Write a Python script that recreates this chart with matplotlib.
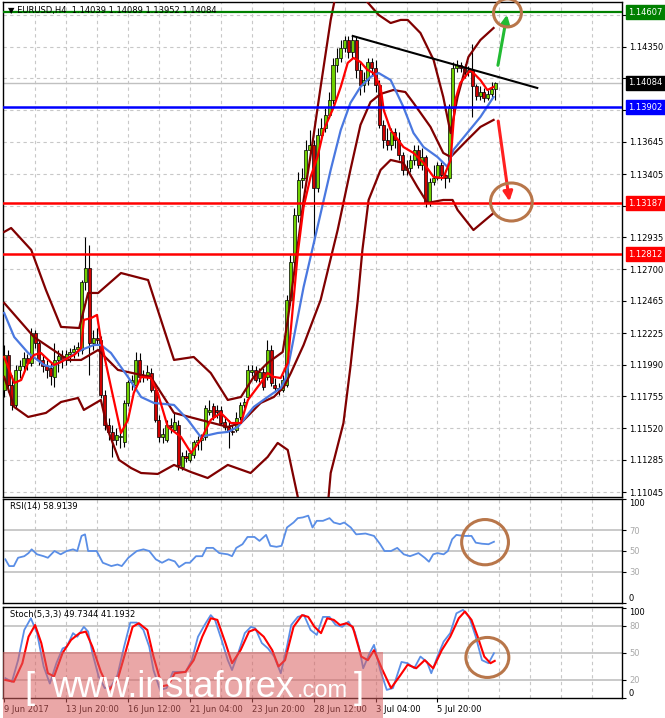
import matplotlib
matplotlib.use("Agg")
import matplotlib.pyplot as plt
import matplotlib.transforms as mtransforms
from matplotlib.patches import Ellipse, Rectangle

# ---------------- data (EURUSD H4) ----------------
opens = [
1.11803, 1.12063, 1.11840, 1.11692, 1.11952, 1.11981, 1.12041, 1.12004, 1.12226, 1.12152,
1.12026, 1.11981, 1.11966, 1.11900, 1.12026, 1.12056, 1.12026, 1.12070, 1.12085, 1.12107,
1.12100, 1.12605, 1.12708, 1.12152, 1.12189, 1.12174, 1.11766, 1.11544, 1.11492, 1.11432,
1.11455, 1.11417, 1.11707, 1.11863, 1.11840, 1.12026, 1.11900, 1.11915, 1.11929, 1.11803,
1.11581, 1.11455, 1.11432, 1.11544, 1.11506, 1.11544, 1.11232, 1.11314, 1.11284, 1.11321,
1.11417, 1.11432, 1.11455, 1.11640, 1.11684, 1.11655, 1.11655, 1.11566, 1.11529, 1.11499,
1.11506, 1.11603, 1.11692, 1.11751, 1.11937, 1.11952, 1.11892, 1.11937, 1.11900, 1.12100,
1.11840, 1.11818, 1.11803, 1.11840, 1.12471, 1.12753, 1.13102, 1.13361, 1.13376, 1.13584,
1.13621, 1.13302, 1.13695, 1.13747, 1.13844, 1.13955, 1.14215, 1.14267, 1.14341, 1.14400,
1.14311, 1.14400, 1.14178, 1.14066, 1.14103, 1.14237, 1.14192, 1.14066, 1.13770, 1.13658,
1.13621, 1.13718, 1.13658, 1.13547, 1.13436, 1.13450, 1.13510, 1.13584, 1.13473, 1.13532,
1.13191, 1.13347, 1.13376, 1.13473, 1.13399, 1.13376, 1.13896, 1.14192, 1.14215, 1.14192,
1.14163, 1.14178, 1.14059, 1.13985, 1.14014, 1.13970, 1.14000, 1.14039]
highs = [
1.12137, 1.12100, 1.11915, 1.11989, 1.12026, 1.12085, 1.12070, 1.12263, 1.12248, 1.12174,
1.12063, 1.12026, 1.12011, 1.12152, 1.12100, 1.12100, 1.12100, 1.12115, 1.12137, 1.12159,
1.12619, 1.12938, 1.12879, 1.12248, 1.12263, 1.12204, 1.11803, 1.11595, 1.11544, 1.11521,
1.11521, 1.11729, 1.11877, 1.11915, 1.12085, 1.12078, 1.11952, 1.11989, 1.11966, 1.11840,
1.11618, 1.11521, 1.11581, 1.11595, 1.11633, 1.11581, 1.11343, 1.11358, 1.11358, 1.11432,
1.11462, 1.11477, 1.11692, 1.11729, 1.11707, 1.11692, 1.11684, 1.11595, 1.11581, 1.11544,
1.11640, 1.11714, 1.11744, 1.11989, 1.11989, 1.11981, 1.11966, 1.11966, 1.12174, 1.12137,
1.11892, 1.11855, 1.11915, 1.12508, 1.12805, 1.13154, 1.13421, 1.13450, 1.13658, 1.13732,
1.13658, 1.13747, 1.13821, 1.13896, 1.14014, 1.14267, 1.14341, 1.14400, 1.14430, 1.14430,
1.14430, 1.14422, 1.14237, 1.14163, 1.14267, 1.14267, 1.14252, 1.14103, 1.13807, 1.13747,
1.13747, 1.13747, 1.13718, 1.13569, 1.13510, 1.13547, 1.13621, 1.13621, 1.13599, 1.13547,
1.13376, 1.13473, 1.13495, 1.13495, 1.13436, 1.13925, 1.14237, 1.14252, 1.14237, 1.14222,
1.14207, 1.14371, 1.14074, 1.14059, 1.14044, 1.14029, 1.14089, 1.14089]
lows = [
1.11751, 1.11788, 1.11655, 1.11670, 1.11892, 1.11937, 1.11952, 1.11981, 1.12115, 1.11989,
1.11937, 1.11892, 1.11840, 1.11826, 1.11937, 1.11966, 1.11989, 1.12011, 1.12041, 1.12056,
1.12070, 1.12545, 1.11915, 1.12100, 1.12137, 1.11744, 1.11506, 1.11432, 1.11306, 1.11395,
1.11373, 1.11380, 1.11684, 1.11803, 1.11803, 1.11863, 1.11863, 1.11877, 1.11788, 1.11566,
1.11417, 1.11410, 1.11417, 1.11484, 1.11492, 1.11210, 1.11210, 1.11269, 1.11269, 1.11299,
1.11358, 1.11358, 1.11432, 1.11618, 1.11581, 1.11595, 1.11544, 1.11506, 1.11373, 1.11469,
1.11492, 1.11581, 1.11670, 1.11729, 1.11907, 1.11863, 1.11863, 1.11803, 1.11877, 1.11833,
1.11788, 1.11766, 1.11788, 1.11826, 1.12434, 1.12708, 1.13050, 1.13302, 1.13347, 1.13510,
1.12894, 1.13272, 1.13658, 1.13718, 1.13821, 1.13925, 1.14163, 1.14237, 1.14311, 1.14267,
1.14267, 1.14118, 1.13992, 1.14014, 1.14066, 1.14141, 1.14014, 1.13747, 1.13599, 1.13584,
1.13584, 1.13599, 1.13510, 1.13399, 1.13399, 1.13421, 1.13473, 1.13450, 1.13436, 1.13161,
1.13169, 1.13324, 1.13361, 1.13361, 1.13302, 1.13347, 1.13866, 1.14163, 1.14163, 1.14118,
1.14133, 1.13829, 1.13955, 1.13955, 1.13940, 1.13955, 1.13977, 1.13952]
closes = [
1.12063, 1.11840, 1.11692, 1.11952, 1.11981, 1.12041, 1.12004, 1.12226, 1.12152, 1.12026,
1.11981, 1.11952, 1.11907, 1.12026, 1.12056, 1.12026, 1.12070, 1.12085, 1.12107, 1.12122,
1.12605, 1.12708, 1.12152, 1.12189, 1.12174, 1.11766, 1.11544, 1.11492, 1.11432, 1.11469,
1.11462, 1.11707, 1.11863, 1.11877, 1.12026, 1.11900, 1.11915, 1.11937, 1.11803, 1.11581,
1.11455, 1.11477, 1.11544, 1.11529, 1.11566, 1.11247, 1.11314, 1.11299, 1.11336, 1.11417,
1.11432, 1.11447, 1.11670, 1.11655, 1.11603, 1.11640, 1.11558, 1.11529, 1.11499, 1.11492,
1.11595, 1.11692, 1.11714, 1.11952, 1.11952, 1.11877, 1.11937, 1.11826, 1.12100, 1.11855,
1.11818, 1.11803, 1.11877, 1.12471, 1.12753, 1.13102, 1.13361, 1.13376, 1.13584, 1.13621,
1.13302, 1.13695, 1.13747, 1.13844, 1.13955, 1.14215, 1.14267, 1.14341, 1.14400, 1.14311,
1.14400, 1.14178, 1.14066, 1.14103, 1.14237, 1.14192, 1.14066, 1.13770, 1.13658, 1.13621,
1.13718, 1.13658, 1.13547, 1.13436, 1.13450, 1.13510, 1.13584, 1.13473, 1.13532, 1.13191,
1.13347, 1.13376, 1.13473, 1.13399, 1.13376, 1.13896, 1.14192, 1.14215, 1.14192, 1.14163,
1.14178, 1.14059, 1.13985, 1.14014, 1.13970, 1.14000, 1.14039, 1.14084]

# Bollinger bands
bb_upper_x = [0, 1.8, 7, 10.8, 14.7, 19.4, 21.7, 24.3, 30.2, 37.2, 39.7, 43.9, 49, 53.4, 57.8, 61.2,
              64.5, 68.1, 72, 73.3, 75.4, 77.4, 79.7, 81.8, 84.4, 87, 90, 92.6, 93.4, 96.8, 99.9,
              102.5, 104.3, 107.6, 111, 113.5, 115.4, 117.2, 120, 123.1, 126.5]
bb_upper = [1.12976, 1.13005, 1.12842, 1.12545, 1.12271, 1.12263, 1.12523, 1.12523, 1.12671, 1.12619,
            1.12397, 1.12026, 1.12048, 1.11929, 1.11729, 1.11751, 1.11900, 1.12004, 1.12085, 1.12323,
            1.12768, 1.13213, 1.13636, 1.14052, 1.14549, 1.14920, 1.15000, 1.14850, 1.14697, 1.14586,
            1.14526, 1.14549, 1.14549, 1.14452, 1.14252, 1.13977, 1.13710, 1.13977, 1.14274, 1.14400,
            1.14489]
bb_mid_x = [0, 7.7, 16.5, 19.9, 24.3, 29.4, 37.9, 43.9, 50.8, 57.8, 61.2, 66.3, 69.7, 72.3, 74.1,
            77.4, 81.8, 86.2, 89.5, 92.1, 94.7, 97.3, 100.6, 103.7, 105.8, 110.2, 113.5, 115.4,
            119.7, 123.1, 126.5]
bb_mid = [1.12449, 1.12196, 1.12026, 1.12026, 1.12100, 1.11952, 1.11900, 1.11633, 1.11581, 1.11529,
          1.11558, 1.11707, 1.11751, 1.11826, 1.11929, 1.12137, 1.12471, 1.12990, 1.13436, 1.13770,
          1.13940, 1.14000, 1.14029, 1.14014, 1.13933, 1.13755, 1.13562, 1.13532, 1.13658, 1.13755,
          1.13807]
bb_lower_x = [0, 2.6, 6.2, 10.8, 14.7, 19.1, 20.6, 25, 26.8, 29.7, 32.8, 35.4, 39.7, 43.9, 48.3,
              52.6, 57.8, 63.7, 68.1, 70.7, 73.3, 75.9, 77.9, 80.5, 83.1, 84.4, 87.7, 89.5, 91.4,
              92.6, 94.2, 97.3, 99.9, 103.2, 106.8, 109.4, 113.5, 115.9, 117.2, 121.3, 126.5]
bb_lower = [1.11900, 1.11677, 1.11603, 1.11633, 1.11714, 1.11744, 1.11655, 1.11729, 1.11506, 1.11284,
            1.11224, 1.11187, 1.11180, 1.11247, 1.11194, 1.11150, 1.11247, 1.11187, 1.11306, 1.11410,
            1.11358, 1.11009, 1.10690, 1.10542, 1.10764, 1.11187, 1.11558, 1.11974, 1.12471, 1.12842,
            1.13213, 1.13436, 1.13510, 1.13488, 1.13310, 1.13191, 1.13213, 1.13213, 1.13139, 1.12990,
            1.13116]

# moving averages
ma_slow_x = [0, 2.6, 6.2, 10.3, 12.1, 16.5, 19.9, 23.2, 25, 27.6, 32, 35.4, 38.7, 43.9, 47.5, 50.8,
             55.2, 57.8, 60.4, 64.5, 68.1, 71.5, 72.8, 74.1, 77.4, 81, 84.4, 87, 89.5, 92.1, 94.7,
             96.8, 98.1, 99.9, 103.2, 105.8, 108.4, 112, 114.6, 116.1, 119.7, 123.1, 126.5]
ma_slow = [1.12375, 1.12196, 1.12078, 1.11989, 1.11974, 1.12041, 1.12100, 1.12137, 1.12137, 1.12078,
           1.11900, 1.11751, 1.11707, 1.11692, 1.11581, 1.11455, 1.11484, 1.11492, 1.11529, 1.11677,
           1.11751, 1.11818, 1.11892, 1.12078, 1.12567, 1.13013, 1.13436, 1.13732, 1.13933, 1.14052,
           1.14126, 1.14155, 1.14133, 1.14103, 1.13903, 1.13710, 1.13606, 1.13532, 1.13458, 1.13584,
           1.13710, 1.13829, 1.13977]
ma_fast_x = [0, 1, 2.6, 4.4, 6.2, 7.7, 9.5, 11.4, 12.9, 14.7, 16.5, 18.1, 19.9, 20.6, 22.5, 24, 25,
             27.6, 30.2, 32, 33.5, 35.4, 37.9, 39.7, 42.3, 45.7, 48.3, 50.8, 53.4, 56, 58.6, 61.2,
             63, 66.3, 68.1, 69.7, 71.5, 73.3, 74.8, 75.9, 77.4, 79.2, 81, 82.6, 85.2, 87, 88.8,
             90.3, 92.1, 93.9, 95.5, 97.3, 98.1, 99.9, 103.2, 105.8, 108.4, 111, 113.5, 115.4,
             116.6, 117.9, 120.5, 123.1, 124.9, 126.5]
ma_fast = [1.12048, 1.11974, 1.11855, 1.11877, 1.12004, 1.12063, 1.12078, 1.12026, 1.11989, 1.12011,
           1.12041, 1.12063, 1.12115, 1.12323, 1.12337, 1.12360, 1.12174, 1.11826, 1.11484, 1.11581,
           1.11781, 1.11900, 1.11892, 1.11781, 1.11529, 1.11455, 1.11336, 1.11432, 1.11581, 1.11633,
           1.11558, 1.11558, 1.11729, 1.11855, 1.11929, 1.11900, 1.11892, 1.12004, 1.12471, 1.12820,
           1.13161, 1.13384, 1.13532, 1.13732, 1.13903, 1.14052, 1.14230, 1.14267, 1.14237, 1.14178,
           1.14155, 1.14052, 1.13881, 1.13732, 1.13606, 1.13562, 1.13488, 1.13384, 1.13376, 1.13510,
           1.13955, 1.14081, 1.14178, 1.14103, 1.14029, 1.14052]

# RSI(14)
rsi_x = [0.3, 1.3, 2.5, 3.6, 5.2, 6.3, 7.1, 8.5, 10.2, 11.3, 13, 14.6, 16.2, 17.8, 18.9, 20, 20.9,
         21.7, 23.9, 25.5, 27.7, 29.3, 30.4, 32.1, 33.2, 34.3, 36, 37.5, 39.2, 40.8, 42.5, 44.1,
         45.2, 46.9, 48, 49.6, 51.2, 52.3, 54, 55.6, 57.8, 58.9, 60, 61.6, 62.9, 64.7, 66, 67.7,
         68.8, 70.4, 71.7, 73.1, 74.8, 75.9, 77.2, 78.6, 79.7, 80.8, 82.4, 84.1, 85.2, 86.8, 87.9,
         89.6, 91, 93.4, 95.6, 97.2, 98.3, 100, 101.6, 103.3, 104.9, 107.1, 108.7, 109.8, 110.9,
         112, 113.6, 114.7, 115.8, 116.9, 118.6, 120.8, 121.9, 123.5, 125.2, 126.6]
rsi_v = [42, 35.5, 35.5, 43.5, 45, 48, 51.6, 46.8, 45, 43.5, 50, 46.8, 50, 51.6, 50, 64.5, 66, 50,
         50, 38.7, 35.5, 37, 35.5, 43.5, 46.8, 50, 51.6, 50, 42, 38.7, 42, 40, 34.5, 38.7, 38.7, 45,
         45, 53, 53, 48, 46.8, 45, 53, 56.5, 63.5, 63.5, 59.7, 65.5, 55, 54, 55, 72.6, 77.4, 81.6,
         82.3, 84, 72.6, 79, 79, 81.6, 77.4, 75.8, 77.4, 72.6, 66, 66.8, 64.5, 56.5, 50, 50, 53,
         46.8, 45, 48, 43.5, 39.7, 46.8, 48, 46.8, 50, 61.3, 65.5, 64.5, 64.5, 58, 57, 56.5, 58.9]

# Stochastic(5,3,3)
st_k_x = [0.3, 2, 3.6, 5.2, 6.9, 8.5, 10.2, 11.8, 13.5, 15.1, 16.2, 17.8, 18.9, 20.6, 21.7, 22.8,
          24.4, 26, 27.7, 29.3, 31, 32.6, 34.3, 36, 37.5, 38.6, 40.3, 42, 43.6, 45.2, 46.9, 48.5,
          50.1, 51.8, 53.4, 54.5, 56.2, 57.8, 58.9, 60.5, 62.2, 63.8, 64.9, 66.6, 68.2, 69.8, 71.5,
          73.1, 74.2, 75.9, 77.5, 79.2, 80.8, 82.4, 84.1, 85.7, 87.4, 89, 90.6, 91.7, 92.8, 94.5,
          95.6, 97.2, 98.9, 100.5, 102.7, 104.3, 106, 107.6, 109.3, 110.4, 112, 113.6, 115.3, 116.9,
          118.6, 120.2, 121.9, 123.5, 125.2, 126.6]
st_k = [22, 18, 42, 75.5, 88.5, 72, 35, 16, 38.6, 55, 57, 72, 68, 79, 73.7, 50, 24, 11, 13, 25.6,
        57, 83.7, 83.7, 75.5, 57, 31, 9, 11, 29, 29, 29, 42, 68, 81, 92, 86.7, 64.5, 42, 31, 50, 72,
        79, 77.4, 61, 55, 46, 27.5, 57, 81, 90, 92, 75.5, 70, 90, 90, 81, 79, 84.8, 73.7, 57, 33,
        50, 59, 31, 9, 11, 40, 38.6, 33, 46, 40, 27.5, 46, 62.6, 72, 94, 97.8, 90, 68, 42, 38.6,
        49.7]
st_d_x = [0.3, 2.5, 4.7, 6.3, 8, 9.6, 11.3, 12.9, 15.1, 17.3, 19.5, 21.1, 22.8, 25, 27.2, 29.3,
          31.5, 33.2, 34.8, 37, 38.6, 40.8, 42.5, 44.1, 46.9, 49, 51.2, 53.4, 55.1, 57.2, 58.9,
          61.1, 63.3, 64.9, 67.1, 69.3, 70.9, 72.6, 74.8, 77, 78.6, 80.2, 81.9, 83.5, 85.2, 86.8,
          88.5, 90.1, 92.3, 94, 95.6, 97.8, 100, 102.2, 104.3, 106.5, 108.7, 110.9, 113.1, 115.3,
          117.5, 119.1, 120.8, 122.4, 124.1, 125.7, 126.8]
st_d = [20, 18, 38.6, 68, 81, 61, 27.5, 24, 50, 64.5, 72, 73.7, 57, 29, 9, 20, 53, 79, 83, 75.5,
        46, 13, 14.5, 27.5, 29, 42, 68, 88.5, 86.7, 61, 38.6, 53, 73.7, 76.3, 68, 53, 35, 42, 79,
        92, 90, 79, 72, 88.5, 86.7, 81, 83, 79, 46, 42, 53, 31, 11, 24, 37, 33, 42, 33, 53, 68,
        88.5, 96, 86.7, 68, 46, 38.6, 41.2]

price_ticks = [1.14585, 1.14350, 1.14115, 1.13880, 1.13645, 1.13405, 1.13170, 1.12935, 1.12700,
               1.12465, 1.12225, 1.11990, 1.11755, 1.11520, 1.11285, 1.11045]
# tick labels hidden under the coloured price boxes are left blank
price_tick_labels = ["", "1.14350", "", "", "1.13645", "1.13405", "", "1.12935", "1.12700",
                     "1.12465", "1.12225", "1.11990", "1.11755", "1.11520", "1.11285", "1.11045"]
time_tick_idx = [0, 16, 32, 48, 64, 80, 96, 112]
time_labels = ["9 Jun 2017", "13 Jun 20:00", "16 Jun 12:00", "21 Jun 04:00", "23 Jun 20:00",
               "28 Jun 12:00", "3 Jul 04:00", "5 Jul 20:00"]
level_green = 1.14607
level_blue = 1.13902
level_red1 = 1.13187
level_red2 = 1.12812
last_price = 1.14084
trend_x = [90.1, 137.8]
trend_y = [1.14430, 1.14044]

# ---------------- figure ----------------
W, H = 665, 718
plt.rcParams['font.family'] = ['DejaVu Sans']
fig = plt.figure(figsize=(W / 100, H / 100), dpi=100)
fig.patch.set_facecolor('white')


def axes_px(x0, y0, x1, y1):
    return fig.add_axes([x0 / W, 1 - y1 / H, (x1 - x0) / W, (y1 - y0) / H])


ax = axes_px(3, 2, 622, 497)
ax_rsi = axes_px(3, 499, 622, 603)
ax_st = axes_px(3, 607, 622, 698)

GRID_C = '#c8c8c8'
DASH = (0, (3, 3))
for a in (ax, ax_rsi, ax_st):
    a.set_xlim(-0.3, 159.7)
    a.set_facecolor('white')
    for s in a.spines.values():
        s.set_color('black')
        s.set_linewidth(1.0)
    for gx in range(8, 160, 8):
        a.axvline(gx, color=GRID_C, lw=0.8, ls=DASH, zorder=0)
    a.yaxis.tick_right()
    a.tick_params(axis='y', direction='out', length=3, width=0.8, labelsize=6, pad=2)
    a.set_xticks([])

# ---- main price panel ----
ax.set_ylim(1.11009, 1.14682)
ax.set_yticks(price_ticks)
ax.set_yticklabels(price_tick_labels)
for t in price_ticks:
    ax.axhline(t, color=GRID_C, lw=0.8, ls=DASH, zorder=0)

idx = list(range(len(closes)))
body_bottom = [min(o, c) for o, c in zip(opens, closes)]
body_height = [max(abs(c - o), 0.00002) for o, c in zip(opens, closes)]
body_color = ['#6fd000' if c >= o else '#d00000' for o, c in zip(opens, closes)]
ax.vlines(idx, lows, highs, color='black', lw=0.8, zorder=3)
ax.bar(idx, body_height, bottom=body_bottom, width=0.78, color=body_color,
       edgecolor='black', linewidth=0.5, zorder=4)

BB_C = '#800000'
ax.plot(bb_upper_x, bb_upper, color=BB_C, lw=1.6, zorder=5)
ax.plot(bb_mid_x, bb_mid, color=BB_C, lw=1.6, zorder=5)
ax.plot(bb_lower_x, bb_lower, color=BB_C, lw=1.6, zorder=5)
ax.plot(ma_slow_x, ma_slow, color='#4a78e0', lw=1.6, zorder=6)
ax.plot(ma_fast_x, ma_fast, color='#ff0000', lw=1.6, zorder=6)

ax.axhline(last_price, color='#c0c0c0', lw=1.0, zorder=2)
ax.axhline(level_green, color='#008000', lw=1.6, zorder=7)
ax.axhline(level_blue, color='#0000ff', lw=1.8, zorder=7)
ax.axhline(level_red1, color='#ff0000', lw=1.8, zorder=7)
ax.axhline(level_red2, color='#ff0000', lw=1.8, zorder=7)
ax.plot(trend_x, trend_y, color='black', lw=1.5, zorder=8)

ax.annotate('', xy=(130.1, 1.14608), xytext=(127.5, 1.14192),
            arrowprops=dict(arrowstyle='-|>', color='#22bb33', lw=2.2, mutation_scale=14),
            zorder=9)
ax.annotate('', xy=(130.7, 1.13183), xytext=(127.6, 1.13819),
            arrowprops=dict(arrowstyle='-|>', color='#ff2020', lw=2.2, mutation_scale=14),
            zorder=9)
CIRC_C = '#b8764a'
ax.add_patch(Ellipse((130.1, 1.14601), 7.2, 0.00208, fill=False, ec=CIRC_C, lw=2.2,
                     clip_on=False, zorder=9))
ax.add_patch(Ellipse((131.1, 1.13198), 10.8, 0.00282, fill=False, ec=CIRC_C, lw=2.2,
                     clip_on=False, zorder=9))

ax.text(5 / 619, 1 - 8 / 495, "\u25bc EURUSD,H4  1.14039 1.14089 1.13952 1.14084",
        transform=ax.transAxes, fontsize=6, va='center', ha='left', zorder=10)

trans = mtransforms.blended_transform_factory(ax.transAxes, ax.transData)


def price_box(val, fc):
    ax.text(1.0 + 6 / 619, val, f"{val:.5f}", transform=trans, ha='left', va='center',
            fontsize=6, color='white',
            bbox=dict(boxstyle='square,pad=0.3', fc=fc, ec=fc), zorder=10)


price_box(level_green, '#008000')
price_box(last_price, '#000000')
price_box(level_blue, '#0000ff')
price_box(level_red1, '#ff0000')
price_box(level_red2, '#ff0000')

# ---- RSI panel ----
ax_rsi.set_ylim(0, 100)
for lv in (30, 50, 70):
    ax_rsi.axhline(lv, color='#c0c0c0', lw=1.2, zorder=1)
ax_rsi.plot(rsi_x, rsi_v, color='#5a8ee6', lw=1.3, zorder=3)
ax_rsi.set_yticks([0, 30, 50, 70, 100])
ax_rsi.set_yticklabels(['0', '30', '50', '70', '100'])
for lab in ax_rsi.get_yticklabels():
    t = lab.get_text()
    if t == '100':
        lab.set_va('top')
    elif t == '0':
        lab.set_va('bottom')
    else:
        lab.set_color('#a8a8a8')
ax_rsi.text(7 / 619, 1 - 8 / 104, "RSI(14) 58.9139", transform=ax_rsi.transAxes,
            fontsize=6, va='center', ha='left')
ax_rsi.add_patch(Ellipse((124.3, 58.5), 12.1, 43.5, fill=False, ec=CIRC_C, lw=2.2, zorder=5))

# ---- Stochastic panel ----
ax_st.set_ylim(0, 101)
for lv in (20, 50, 80):
    ax_st.axhline(lv, color='#c0c0c0', lw=1.2, zorder=1)
ax_st.plot(st_k_x, st_k, color='#5a8ee6', lw=1.3, zorder=3)
ax_st.plot(st_d_x, st_d, color='#ff0000', lw=1.5, zorder=4)
ax_st.set_yticks([0, 20, 50, 80, 100])
ax_st.set_yticklabels(['0', '20', '50', '80', '100'])
for lab in ax_st.get_yticklabels():
    t = lab.get_text()
    if t == '100':
        lab.set_va('top')
    elif t == '0':
        lab.set_va('bottom')
    else:
        lab.set_color('#a8a8a8')
ax_st.text(7 / 619, 1 - 7 / 91, "Stoch(5,3,3) 49.7344 41.1932", transform=ax_st.transAxes,
           fontsize=6, va='center', ha='left')
ax_st.add_patch(Ellipse((124.9, 45), 11.1, 44.4, fill=False, ec=CIRC_C, lw=2.2, zorder=5))

ax_st.set_xticks(time_tick_idx)
ax_st.set_xticklabels(time_labels, ha='left')
ax_st.tick_params(axis='x', direction='out', length=3, width=0.8, labelsize=6, pad=2)

# ---- watermark ----
fig.add_artist(Rectangle((3 / W, 0), 380 / W, 66 / H, transform=fig.transFigure,
                         fc='#d95f5f', ec='none', alpha=0.55, zorder=20))
wm = dict(color='white', family='Liberation Sans', va='baseline', ha='left', zorder=21)
fig.text(24 / W, 1 - 698 / H, "[", fontsize=26, **wm)
fig.text(51 / W, 1 - 697 / H, "www.instaforex", fontsize=26, **wm)
fig.text(297 / W, 1 - 697 / H, ".com", fontsize=17, **wm)
fig.text(354 / W, 1 - 698 / H, "]", fontsize=26, **wm)

fig.savefig("out.png", dpi=100)
